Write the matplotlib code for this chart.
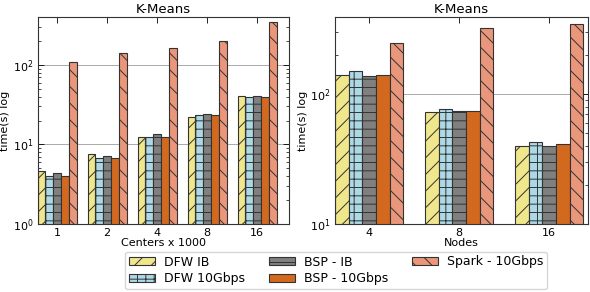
import matplotlib
matplotlib.use("Agg")
import matplotlib.pyplot as plt
import numpy as np

plt.rcParams['hatch.linewidth'] = 0.7

series = ["DFW IB", "DFW 10Gbps", "BSP - IB", "BSP - 10Gbps", "Spark - 10Gbps"]
colors = ["khaki", "lightblue", "gray", "chocolate", "darksalmon"]
hatches = ["//", "++", "--", "", "\\\\"]

centers = ["1", "2", "4", "8", "16"]
left_vals = [
    [4.6, 7.5, 12.5, 22.0, 41.0],      # DFW IB
    [4.0, 6.8, 12.5, 23.5, 40.0],      # DFW 10Gbps
    [4.4, 7.1, 13.5, 24.0, 40.5],      # BSP - IB
    [4.0, 6.8, 12.5, 23.5, 40.0],      # BSP - 10Gbps
    [108.0, 140.0, 165.0, 200.0, 345.0],  # Spark - 10Gbps
]

nodes = ["4", "8", "16"]
right_vals = [
    [140.0, 72.6, 40.2],
    [151.0, 76.6, 42.6],
    [138.0, 74.3, 39.7],
    [140.0, 74.3, 41.4],
    [249.0, 323.0, 348.0],
]

fig = plt.figure(figsize=(5.9, 2.92), dpi=100)
W, H = 590.0, 292.0
ax1 = fig.add_axes([37.7 / W, 1 - 224 / H, (289 - 37.7) / W, (224 - 17) / H])
ax2 = fig.add_axes([335 / W, 1 - 224 / H, (588 - 335) / W, (224 - 17) / H])


def draw(ax, cats, vals, width, xlim, ylim, xlabel):
    ind = np.arange(len(cats))
    handles = []
    for k, (v, c, h, name) in enumerate(zip(vals, colors, hatches, series)):
        b = ax.bar(ind + k * width, v, width, color=c, hatch=h, edgecolor="#333333",
                   linewidth=0.8, label=name, align="edge", zorder=2)
        handles.append(b)
    ax.set_yscale("log")
    ax.set_ylim(*ylim)
    ax.set_xlim(*xlim)
    ax.set_xticks(ind + 2.5 * width)
    ax.set_xticklabels(cats)
    ax.set_title("K-Means", fontsize=9.5, pad=3)
    ax.set_ylabel("time(s) log", fontsize=8, labelpad=2)
    ax.set_xlabel(xlabel, fontsize=8, labelpad=0)
    ax.tick_params(which="both", direction="in", top=True, right=True, labelsize=8)
    ax.tick_params(which="major", length=4, width=0.6, pad=3)
    ax.tick_params(which="minor", length=2, width=0.5)
    ax.tick_params(axis="x", which="minor", bottom=False, top=False)
    ax.yaxis.grid(True, which="major", color="#aaaaaa", linewidth=0.7, zorder=0)
    ax.set_axisbelow(True)
    for s in ax.spines.values():
        s.set_linewidth(0.8)
        s.set_color("#333333")
    return handles


handles = draw(ax1, centers, left_vals, 0.156, (0, 5.03), (1, 400), "Centers x 1000")
draw(ax2, nodes, right_vals, 0.152, (0, 2.81), (10, 395), "Nodes")

fig.legend(handles, series, loc="lower center", bbox_to_anchor=(336 / W, 3 / H),
           ncol=3, fontsize=9, frameon=True, edgecolor="#cccccc",
           handlelength=2.1, handleheight=0.6, columnspacing=1.9,
           borderpad=0.3, labelspacing=0.3, handletextpad=0.7,
           borderaxespad=0.0)

fig.savefig("out.png", dpi=100)
